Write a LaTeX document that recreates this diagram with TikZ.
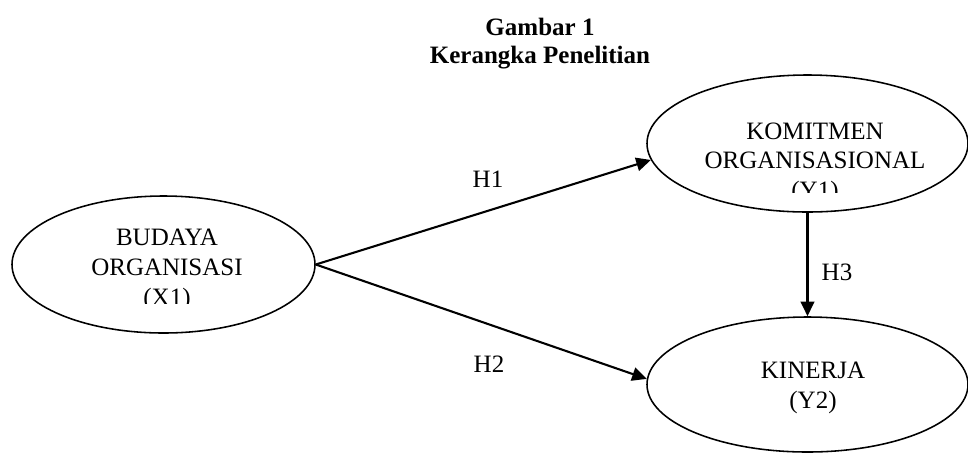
\documentclass[tikz,border=0pt]{standalone}
\usepackage{fontspec}
\setmainfont{Liberation Serif}
\usetikzlibrary{arrows.meta,shapes.geometric}
\begin{document}
\begin{tikzpicture}[x=0.48pt,y=-0.48pt,
  var/.style={draw,ellipse,line width=0.75pt,inner sep=0pt},
  txt/.style={anchor=base,inner sep=0pt,font=\fontsize{12pt}{14pt}\selectfont},
  ttl/.style={anchor=base,inner sep=0pt,font=\fontsize{12pt}{14pt}\selectfont\bfseries},
  link/.style={-{Triangle[length=7pt,width=6.5pt]},line width=1pt}
]
\useasboundingbox (0,0) rectangle (968,453);

% heading
\node[ttl] (t1) at (540,35) {Gambar 1};
\node[ttl] (t2) at (540,63.5) {Kerangka Penelitian};

% variables
\node[var,minimum width=145.44pt,minimum height=65.76pt] (x1) at (163.5,264.5) {};
\node[var,minimum width=154.08pt,minimum height=65.76pt] (y1) at (807.5,143.5) {};
\node[var,minimum width=154.08pt,minimum height=64.8pt] (y2) at (807.5,384.5) {};

% variable names (last line cut off by the text frame)
\begin{scope}
  \clip (0,0) rectangle (968,303.5);
  \node[txt] (x1a) at (167,245) {BUDAYA};
  \node[txt] (x1b) at (167,275) {ORGANISASI};
  \node[txt] (x1c) at (167,305) {(X1)};
\end{scope}
\begin{scope}
  \clip (0,0) rectangle (968,192.5);
  \node[txt] (y1a) at (815,139) {KOMITMEN};
  \node[txt] (y1b) at (815,168.5) {ORGANISASIONAL};
  \node[txt] (y1c) at (815,198) {(Y1)};
\end{scope}
\node[txt] (y2a) at (813,378) {KINERJA};
\node[txt] (y2b) at (813,408) {(Y2)};

% hypotheses
\draw[link] (x1.east) -- (y1.186);
\draw[link] (x1.east) -- (y2.178);
\draw[link] (y1.south) -- (y2.north);

\node[txt] (h1) at (488,187) {H1};
\node[txt] (h2) at (489,372) {H2};
\node[txt] (h3) at (837,280) {H3};
\end{tikzpicture}
\end{document}
